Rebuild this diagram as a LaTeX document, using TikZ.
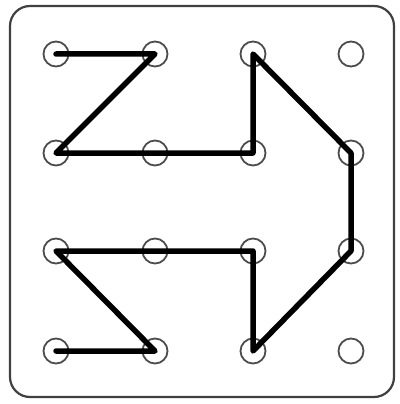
\documentclass[tikz,border=0pt]{standalone}
\begin{document}
\begin{tikzpicture}[x=1pt,y=-1pt,
  peg/.style={circle,draw=black!70,line width=1.8pt,minimum size=25pt,inner sep=0pt},
  band/.style={line width=5.5pt,line join=round,line cap=round}]
\useasboundingbox (0,0) rectangle (399,404);
\draw[black!75,line width=2.2pt,rounded corners=20pt] (10,6) rectangle (394,397);
\foreach \c [count=\i] in {56,155,253,351}{
  \foreach \r [count=\j] in {54,153,251,351}{
    \node[peg] (p\i\j) at (\c,\r) {};
  }
}
\draw[band] (p11.center) -- (p21.center) -- (p12.center) -- (p32.center) -- (p31.center)
  -- (p42.center) -- (p43.center) -- (p34.center) -- (p33.center) -- (p13.center)
  -- (p24.center) -- (p14.center);
\end{tikzpicture}
\end{document}
